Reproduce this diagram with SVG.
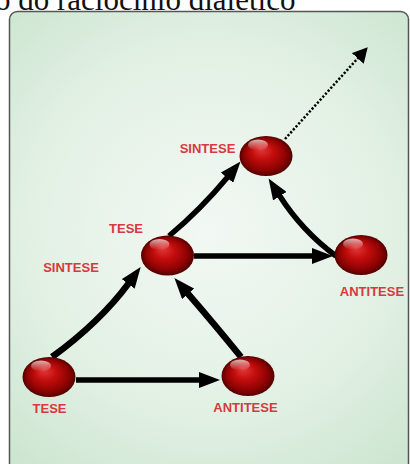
<svg xmlns="http://www.w3.org/2000/svg" width="410" height="464" viewBox="0 0 410 464">
  <defs>
    <radialGradient id="panelFill" cx="210" cy="230" r="320" gradientUnits="userSpaceOnUse">
      <stop offset="0" stop-color="#f2f8f3"/>
      <stop offset="0.55" stop-color="#e3f1e5"/>
      <stop offset="1" stop-color="#c9e4cd"/>
    </radialGradient>
    <radialGradient id="ball" cx="0.5" cy="0.5" r="0.5" fx="0.4" fy="0.32">
      <stop offset="0" stop-color="#e23a3a"/>
      <stop offset="0.4" stop-color="#c40d0d"/>
      <stop offset="0.8" stop-color="#8c0202"/>
      <stop offset="1" stop-color="#520000"/>
    </radialGradient>
    <linearGradient id="shine" x1="0" y1="0" x2="0" y2="1">
      <stop offset="0" stop-color="#ffffff" stop-opacity="0.7"/>
      <stop offset="1" stop-color="#ffffff" stop-opacity="0"/>
    </linearGradient>
    <marker id="head" markerUnits="userSpaceOnUse" markerWidth="22" markerHeight="16" refX="1" refY="8" orient="auto">
      <path d="M0,0 L21,8 L0,16 Z" fill="#000"/>
    </marker>
    <marker id="headSmall" markerUnits="userSpaceOnUse" markerWidth="16" markerHeight="16" refX="1" refY="8" orient="auto">
      <path d="M0,0 L15,8 L0,16 Z" fill="#000"/>
    </marker>
  </defs>
  <style>
    .title { font-family: "Liberation Serif", "Times New Roman", serif; font-size: 31px; fill: #111; }
    .lbl { font-family: "Liberation Sans", Arial, sans-serif; font-weight: bold; font-size: 13px; fill: #d8383f; text-anchor: middle; }
    .edge { fill: none; stroke: #000; stroke-width: 5.5; marker-end: url(#head); }
    .edge.thick { stroke-width: 6.5; }
    .dots { fill: none; stroke: #000; stroke-width: 2.5; stroke-dasharray: 2.2 1.8; marker-end: url(#headSmall); }
    .sphere { fill: url(#ball); }
    .gloss { fill: url(#shine); }
  </style>

  <!-- heading, partly above the visible area -->
  <text class="title" x="-5" y="10">o do raciocínio dialético</text>

  <!-- background panel -->
  <rect x="9.5" y="11.5" width="399" height="470" rx="8" fill="url(#panelFill)" stroke="#555" stroke-width="1.5"/>

  <g id="connectors">
    <path class="edge" d="M76,380 H200"/>
    <path class="edge" d="M194,256 H313"/>
    <path class="edge thick" d="M52,357 Q100,322 128.8,283.1"/>
    <path class="edge thick" d="M241,357 Q216,326 187.5,293.1"/>
    <path class="edge" d="M169,236 Q201,209 227.7,176.9"/>
    <path class="edge" d="M336,256 Q302,231 279.3,195.3"/>
    <path class="dots" d="M285,139 L358.4,57.6"/>
  </g>

  <g id="node-tese-1">
    <ellipse class="sphere" cx="49" cy="377" rx="26.5" ry="20"/>
    <ellipse class="gloss" cx="41" cy="366" rx="10" ry="5.5"/>
    <text class="lbl" x="49.5" y="413">TESE</text>
  </g>

  <g id="node-antitese-1">
    <ellipse class="sphere" cx="248" cy="376" rx="26.5" ry="20"/>
    <ellipse class="gloss" cx="240" cy="365" rx="10" ry="5.5"/>
    <text class="lbl" x="245.5" y="411.5">ANTITESE</text>
  </g>

  <g id="node-sintese-tese">
    <ellipse class="sphere" cx="167.5" cy="255.5" rx="26.5" ry="20"/>
    <ellipse class="gloss" cx="159.5" cy="244.5" rx="10" ry="5.5"/>
    <text class="lbl" x="126" y="232.5">TESE</text>
    <text class="lbl" x="71" y="271.5">SINTESE</text>
  </g>

  <g id="node-antitese-2">
    <ellipse class="sphere" cx="361" cy="255" rx="26.5" ry="20"/>
    <ellipse class="gloss" cx="353" cy="244" rx="10" ry="5.5"/>
    <text class="lbl" x="372" y="296">ANTITESE</text>
  </g>

  <g id="node-sintese-2">
    <ellipse class="sphere" cx="266" cy="156" rx="26.5" ry="20"/>
    <ellipse class="gloss" cx="258" cy="145" rx="10" ry="5.5"/>
    <text class="lbl" x="207.5" y="153">SINTESE</text>
  </g>
</svg>
